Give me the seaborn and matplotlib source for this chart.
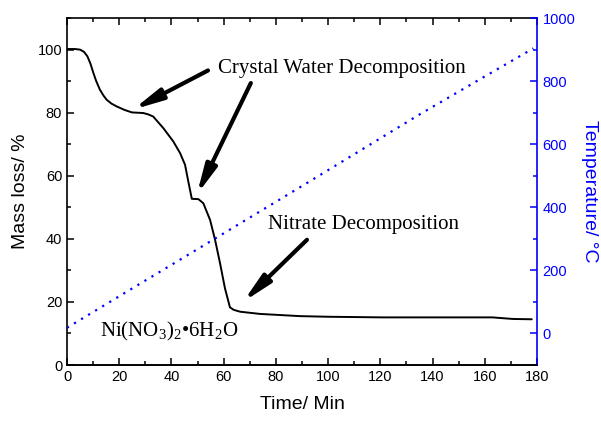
import pandas as pd
import numpy as np
import matplotlib
matplotlib.use("Agg")
import matplotlib.pyplot as plt
import seaborn as sns
from matplotlib.ticker import MultipleLocator

# mass loss curve
time_mass = [0, 3, 5, 6.5, 7.8, 9, 10.1, 11.2, 12.6, 14, 15.2, 17, 19, 22, 24.8, 29.2, 31,
             33, 36.9, 40.7, 43.3, 45.2, 46.5, 47.8, 50.3, 52.2, 54.8, 56.7, 58.6, 60.5,
             62.4, 63.8, 66.3, 73.9, 89.2, 100, 121, 140, 163, 166, 170.8, 178]
mass = [100.2, 100.2, 100, 99.3, 97.9, 95.5, 92.6, 90, 87.3, 85.4, 84.1, 82.9, 82, 80.9,
        80.1, 79.9, 79.5, 78.8, 75.1, 70.9, 67.2, 63.5, 58, 52.7, 52.6, 51.3, 46, 39.7,
        32.3, 24.3, 18.3, 17.5, 16.9, 16.2, 15.5, 15.3, 15.1, 15.1, 15.1, 14.9, 14.6, 14.5]

# temperature ramp
time_temp = [0, 2, 28, 44.5, 80.3, 89.9, 134.5, 160, 178.6]
temp = [18, 28, 158, 240, 419, 467, 692, 815, 904]

dfm = pd.DataFrame({"t": time_mass, "m": mass})
dft = pd.DataFrame({"t": time_temp, "T": temp})

sns.set_style("ticks")
plt.rcParams['font.family'] = ['Liberation Sans', 'DejaVu Sans']
plt.rcParams['mathtext.fontset'] = 'custom'
plt.rcParams['mathtext.rm'] = 'Liberation Serif'
plt.rcParams['axes.linewidth'] = 1.2
plt.rcParams['text.color'] = 'black'
plt.rcParams['axes.labelcolor'] = 'black'
plt.rcParams['xtick.color'] = 'black'
plt.rcParams['ytick.color'] = 'black'
plt.rcParams['axes.edgecolor'] = 'black'

fig = plt.figure(figsize=(6.01, 4.21), dpi=100)
ax = fig.add_axes([0.1115, 0.133, 0.782, 0.824])
ax2 = ax.twinx()

sns.lineplot(data=dfm, x="t", y="m", ax=ax, color="black", lw=1.4, estimator=None)
sns.lineplot(data=dft, x="t", y="T", ax=ax2, color="blue", lw=1.6,
             linestyle=(0, (1, 2.7)), estimator=None)

ax.set_xlim(0, 180)
ax.set_ylim(0, 110)
ax2.set_ylim(-100, 1000)
ax.xaxis.set_major_locator(MultipleLocator(20))
ax.xaxis.set_minor_locator(MultipleLocator(10))
ax.yaxis.set_major_locator(MultipleLocator(20))
ax.yaxis.set_minor_locator(MultipleLocator(10))
ax2.yaxis.set_major_locator(MultipleLocator(200))
ax2.yaxis.set_minor_locator(MultipleLocator(100))
ax2.set_yticks([0, 200, 400, 600, 800, 1000])

ax.tick_params(which='both', direction='in', top=True, right=False, labelsize=10.5, width=1.1)
ax.tick_params(which='major', length=5)
ax.tick_params(which='minor', length=3)
ax2.tick_params(which='both', direction='in', colors='blue', labelsize=10.5, width=1.1)
ax2.tick_params(which='major', length=5, pad=4)
ax2.tick_params(which='minor', length=3)

ax.spines['right'].set_visible(False)
ax2.spines['left'].set_visible(False)
ax2.spines['top'].set_visible(False)
ax2.spines['right'].set_color('blue')

ax.set_xlabel("Time/ Min", fontsize=14, labelpad=9)
ax.set_ylabel("Mass loss/ %", fontsize=14, labelpad=6)
ax2.set_ylabel("Temperature/ °C", fontsize=14, color='blue', rotation=270, labelpad=16)

serif = ['Liberation Serif', 'DejaVu Serif']
ax.text(57.8, 94, "Crystal Water Decomposition", fontsize=15, family=serif, va='center')
ax.text(77, 44.4, "Nitrate Decomposition", fontsize=15, family=serif, va='center')
ax.text(12.6, 10.6, r"Ni(NO$_\mathrm{3}$)$_\mathrm{2}$•6H$_\mathrm{2}$O", fontsize=15,
        family=serif, va='center')

arrow = dict(arrowstyle="-|>,head_length=0.95,head_width=0.19", lw=3, color="black",
             mutation_scale=18, shrinkA=0, shrinkB=0)
ax.annotate("", xy=(25.3, 81.0), xytext=(54.0, 93.4), arrowprops=arrow)
ax.annotate("", xy=(49.7, 54.0), xytext=(70.4, 89.4), arrowprops=arrow)
ax.annotate("", xy=(67.4, 20.0), xytext=(91.9, 39.7), arrowprops=arrow)

fig.savefig("out.png", dpi=100)
